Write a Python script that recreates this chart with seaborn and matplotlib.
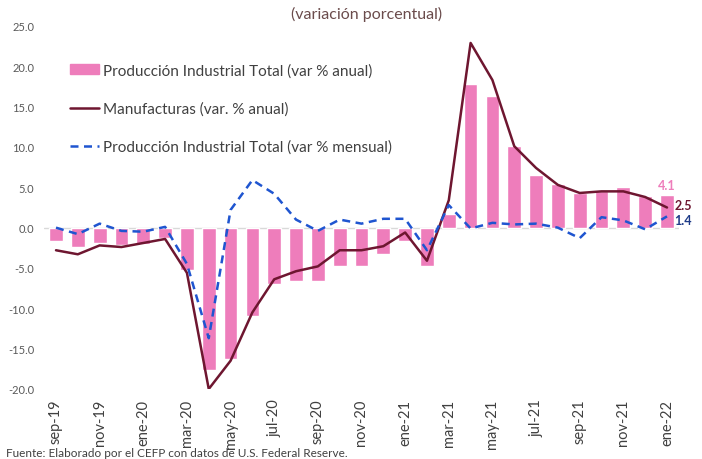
import numpy as np
import pandas as pd
import matplotlib
matplotlib.use("Agg")
import matplotlib.pyplot as plt
import seaborn as sns
from matplotlib.patches import Patch
from matplotlib.lines import Line2D

# ── DATA ────────────────────────────────────────────────────
months = ["sep-19", "oct-19", "nov-19", "dic-19", "ene-20", "feb-20", "mar-20",
          "abr-20", "may-20", "jun-20", "jul-20", "ago-20", "sep-20", "oct-20",
          "nov-20", "dic-20", "ene-21", "feb-21", "mar-21", "abr-21", "may-21",
          "jun-21", "jul-21", "ago-21", "sep-21", "oct-21", "nov-21", "dic-21",
          "ene-22"]

prod_anual = [-1.7, -2.4, -1.9, -2.1, -2.0, -1.3, -5.2, -17.6, -16.3, -10.9,
              -7.0, -6.6, -6.6, -4.7, -4.7, -3.3, -1.7, -4.8, 1.7, 17.8,
              16.3, 10.1, 6.5, 5.4, 4.3, 4.6, 5.1, 3.9, 4.1]

manuf_anual = [-2.8, -3.3, -2.2, -2.4, -1.9, -1.4, -5.6, -20.0, -16.5, -10.5,
               -6.4, -5.4, -4.8, -2.8, -2.8, -2.3, -0.6, -4.1, 3.4, 22.9,
               18.3, 10.1, 7.4, 5.3, 4.3, 4.5, 4.5, 3.8, 2.5]

prod_mensual = [0.0, -0.8, 0.5, -0.4, -0.5, 0.1, -4.5, -13.7, 2.2, 5.9,
                4.2, 1.0, -0.4, 1.0, 0.5, 1.1, 1.1, -2.8, 2.8, -0.1,
                0.6, 0.4, 0.5, 0.0, -1.3, 1.3, 0.9, -0.2, 1.4]

tick_labels = months[::2]

PINK = "#EE7DBB"
MAROON = "#6E1630"
BLUE = "#1F55D0"
GREY = "#404040"

df = pd.DataFrame({"mes": months, "idx": np.arange(len(months)),
                   "anual": prod_anual, "manuf": manuf_anual,
                   "mensual": prod_mensual})

# ── PLOT ────────────────────────────────────────────────────
sns.set_style("white")
plt.rcParams["font.family"] = ["Lato", "DejaVu Sans"]

fig = plt.figure(figsize=(7.02, 4.6), dpi=100)
ax = fig.add_axes([44 / 702, 1 - 390 / 460, 635 / 702, 363 / 460])

sns.barplot(data=df, x="mes", y="anual", order=months, color=PINK,
            saturation=1, width=0.63, ax=ax)
sns.lineplot(data=df, x="idx", y="manuf", color=MAROON, lw=1.8, ax=ax)
sns.lineplot(data=df, x="idx", y="mensual", color=BLUE, lw=1.8,
             linestyle=(0, (3.2, 2.2)), ax=ax)

ax.axhline(0, color="#d9d9d9", lw=1, zorder=0)
ax.set_xlim(-0.55, len(months) - 0.45)
ax.set_ylim(-20, 25)
ax.set_yticks(np.arange(-20, 26, 5))
ax.set_yticklabels([f"{v:.1f}" for v in np.arange(-20, 26, 5)],
                   fontsize=8, color="#595959")
ax.set_xticks(np.arange(0, len(months), 2))
ax.set_xticklabels(tick_labels, rotation=90, fontsize=10.5, color=GREY)
ax.tick_params(axis="both", length=0, pad=7)
ax.set_xlabel("")
ax.set_ylabel("")
for s in ax.spines.values():
    s.set_visible(False)

# end labels
n = len(months) - 1
ax.text(n, prod_anual[-1] + 0.5, f"{prod_anual[-1]:.1f}", color=PINK,
        ha="center", va="bottom", fontsize=9, fontweight="bold")
ax.text(n + 0.35, manuf_anual[-1] + 0.3, f"{manuf_anual[-1]:.1f}", color=MAROON,
        ha="left", va="center", fontsize=9, fontweight="bold")
ax.text(n + 0.35, prod_mensual[-1] - 0.45, f"{prod_mensual[-1]:.1f}",
        color="#1F3C88", ha="left", va="center", fontsize=9, fontweight="bold")

handles = [Patch(color=PINK),
           Line2D([], [], color=MAROON, lw=1.8),
           Line2D([], [], color=BLUE, lw=1.8, linestyle=(0, (3.2, 2.2)))]
labels = ["Producción Industrial Total (var % anual)",
          "Manufacturas (var. % anual)",
          "Producción Industrial Total (var % mensual)"]
leg = ax.legend(handles, labels, loc="upper left",
                bbox_to_anchor=(0.02, 0.935), frameon=False, fontsize=11,
                labelspacing=1.55, handlelength=1.9, handletextpad=0.2,
                handleheight=0.6)
for t in leg.get_texts():
    t.set_color(GREY)

fig.text(367 / 702, 1 - 14 / 460, "(variación porcentual)", ha="center",
         va="center", fontsize=11.5, color="#6b4c4c")
fig.text(6 / 702, 1 - 459 / 460,
         "Fuente: Elaborado por el CEFP con datos de U.S. Federal Reserve.",
         ha="left", va="bottom", fontsize=8.5, color=GREY)

fig.savefig("out.png", dpi=100)
